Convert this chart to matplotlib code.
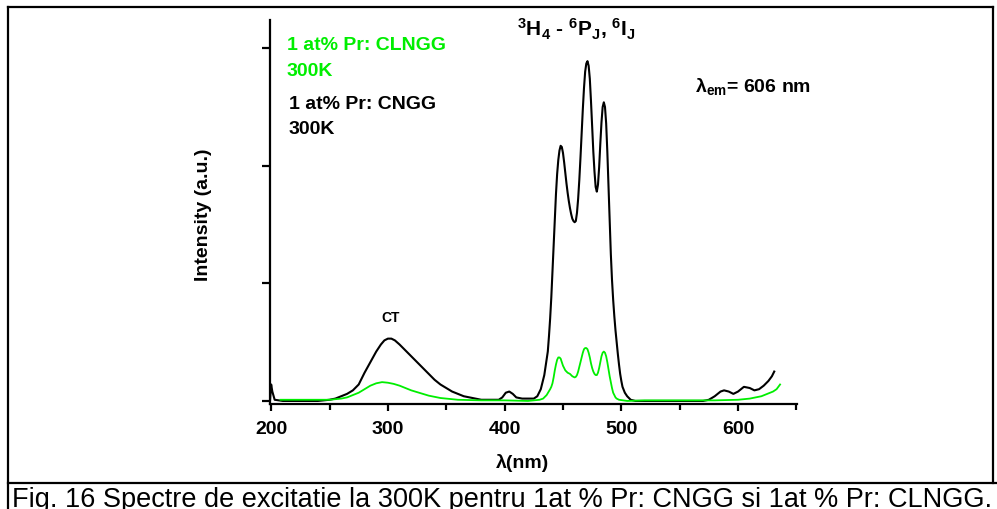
import matplotlib
matplotlib.use("Agg")
import matplotlib.pyplot as plt
from matplotlib.lines import Line2D
from matplotlib.ticker import MultipleLocator, NullFormatter

plt.rcParams["font.family"] = ["Liberation Sans", "DejaVu Sans"]
plt.rcParams["font.weight"] = "bold"
plt.rcParams["mathtext.fontset"] = "custom"
plt.rcParams["mathtext.rm"] = "Liberation Sans:bold"
plt.rcParams["mathtext.it"] = "Liberation Sans:bold"
plt.rcParams["mathtext.bf"] = "Liberation Sans:bold"

# excitation spectrum, 1 at% Pr: CNGG (black)
wl_cngg = [199, 200, 201, 203, 210, 220, 230, 240, 250, 255, 260, 265, 270, 275, 280,
           285, 290, 294, 297, 300, 303, 306, 310, 315, 320, 325, 330, 335, 340, 345,
           350, 355, 360, 365, 370, 375, 380, 385, 390, 395, 398, 401, 404, 407, 410,
           415, 420, 425, 428, 431, 434, 437, 438, 439, 440, 441, 442, 443, 444, 445,
           446, 447, 448, 449, 450, 451, 452, 453, 454, 455, 456, 457, 458, 459, 460,
           461, 462, 463, 464, 465, 466, 467, 468, 469, 470, 471, 472, 473, 474, 475,
           476, 477, 478, 479, 480, 481, 482, 483, 484, 485, 486, 487, 488, 489, 490,
           491, 492, 493, 494, 495, 496, 497, 498, 499, 500, 501, 503, 505, 508, 512,
           520, 530, 540, 550, 560, 570, 575, 580, 585, 588, 592, 596, 600, 605, 610,
           614, 618, 622, 626, 629, 631]
int_cngg = [0.0, 0.14, 0.08, 0.01, 0.0, 0.0, 0.0, 0.0, 0.01, 0.02, 0.04, 0.06, 0.09, 0.14, 0.24,
            0.33, 0.42, 0.48, 0.515, 0.53, 0.53, 0.515, 0.48, 0.43, 0.38, 0.33, 0.28, 0.23, 0.18, 0.14,
            0.11, 0.08, 0.06, 0.04, 0.03, 0.02, 0.01, 0.01, 0.01, 0.01, 0.03, 0.07, 0.08, 0.06, 0.03,
            0.02, 0.02, 0.02, 0.04, 0.10, 0.22, 0.42, 0.55, 0.70, 0.88, 1.09, 1.32, 1.55, 1.76, 1.93,
            2.05, 2.13, 2.17, 2.16, 2.11, 2.03, 1.94, 1.85, 1.77, 1.70, 1.64, 1.59, 1.55, 1.53, 1.52,
            1.53, 1.60, 1.72, 1.88, 2.07, 2.28, 2.48, 2.66, 2.80, 2.87, 2.89, 2.85, 2.74, 2.55, 2.33,
            2.12, 1.95, 1.82, 1.78, 1.84, 1.99, 2.19, 2.37, 2.50, 2.54, 2.50, 2.36, 2.12, 1.83, 1.52,
            1.25, 1.03, 0.86, 0.72, 0.60, 0.50, 0.40, 0.31, 0.23, 0.17, 0.12, 0.07, 0.04, 0.01, 0.0,
            0.0, 0.0, 0.0, 0.0, 0.0, 0.0, 0.01, 0.04, 0.08, 0.09, 0.08, 0.06, 0.08, 0.12, 0.11,
            0.09, 0.10, 0.13, 0.17, 0.21, 0.25]

# excitation spectrum, 1 at% Pr: CLNGG (green)
wl_clngg = [208, 220, 240, 250, 260, 265, 270, 275, 280, 285, 290, 295, 300, 305, 310,
            315, 320, 325, 330, 335, 340, 345, 350, 360, 380, 400, 420, 430, 433, 436,
            439, 440, 441, 442, 443, 444, 445, 446, 447, 448, 449, 450, 451, 452, 453,
            454, 455, 456, 457, 458, 459, 460, 461, 462, 463, 464, 465, 466, 467, 468,
            469, 470, 471, 472, 473, 474, 475, 476, 477, 478, 479, 480, 481, 482, 483,
            484, 485, 486, 487, 488, 489, 490, 491, 492, 493, 494, 495, 496, 498, 505,
            520, 540, 560, 580, 600, 610, 615, 620, 625, 630, 633, 636]
int_clngg = [0.01, 0.01, 0.01, 0.01, 0.02, 0.03, 0.05, 0.07, 0.10, 0.13, 0.15, 0.16, 0.155, 0.145, 0.13,
             0.11, 0.09, 0.075, 0.06, 0.045, 0.035, 0.025, 0.02, 0.01, 0.005, 0.005, 0.0, 0.01, 0.02, 0.05,
             0.10, 0.12, 0.15, 0.20, 0.26, 0.31, 0.35, 0.37, 0.37, 0.36, 0.33, 0.30, 0.28, 0.26, 0.25,
             0.24, 0.235, 0.23, 0.22, 0.21, 0.205, 0.20, 0.205, 0.22, 0.25, 0.29, 0.33, 0.37, 0.41, 0.44,
             0.45, 0.45, 0.44, 0.41, 0.37, 0.32, 0.28, 0.25, 0.23, 0.22, 0.22, 0.24, 0.28, 0.33, 0.38,
             0.41, 0.42, 0.41, 0.38, 0.33, 0.27, 0.21, 0.16, 0.11, 0.07, 0.05, 0.03, 0.02, 0.01, 0.0,
             0.005, 0.005, 0.005, 0.005, 0.01, 0.02, 0.03, 0.04, 0.06, 0.08, 0.10, 0.14]

x_ticks = [200, 300, 400, 500, 600]
y_ticks = [0, 1, 2, 3]

W, H = 997, 509
fig = plt.figure(figsize=(W / 100, H / 100), dpi=100)


def fx(px):
    return px / W


def fy(py):
    return 1 - py / H


ax = fig.add_axes([fx(270), fy(404), fx(797) - fx(270), fy(20) - fy(404)])
ax.plot(wl_cngg, int_cngg, color="black", lw=1.5)
ax.plot(wl_clngg, int_clngg, color="#00ee00", lw=1.3)

ax.set_xlim(199, 650.5)
ax.set_ylim(-0.026, 3.24)
for s in ["top", "right"]:
    ax.spines[s].set_visible(False)
for s in ["left", "bottom"]:
    ax.spines[s].set_linewidth(1.6)

ax.set_xticks(x_ticks)
ax.xaxis.set_minor_locator(MultipleLocator(50))
ax.set_yticks(y_ticks)
ax.yaxis.set_major_formatter(NullFormatter())
ax.tick_params(axis="x", which="major", direction="out", length=5, width=1.6, pad=7, labelsize=14)
ax.tick_params(axis="x", which="minor", direction="out", length=4, width=1.6)
ax.tick_params(axis="y", which="major", direction="out", length=6, width=1.6)
for lab in ax.get_xticklabels():
    lab.set_fontweight("bold")

# labels and annotations
fig.text(fx(523), fy(463), "λ(nm)", ha="center", va="center", fontsize=14, fontweight="bold")
fig.text(fx(203), fy(215), "Intensity (a.u.)", rotation=90, ha="center", va="center",
         fontsize=14, fontweight="bold")
fig.text(fx(287), fy(50), "1 at% Pr: CLNGG", color="#00ee00", fontsize=14, fontweight="bold", va="baseline")
fig.text(fx(287), fy(76), "300K", color="#00ee00", fontsize=14, fontweight="bold", va="baseline")
fig.text(fx(289), fy(109), "1 at% Pr: CNGG", color="black", fontsize=14, fontweight="bold", va="baseline")
fig.text(fx(289), fy(134), "300K", color="black", fontsize=14, fontweight="bold", va="baseline")
fig.text(fx(517), fy(37), r"$^{3}$H$_{4}$ - $^{6}$P$_{J}$, $^{6}$I$_{J}$", fontsize=15,
         fontweight="bold", va="baseline")
fig.text(fx(695), fy(92), r"λ$_{em}$= 606 nm", fontsize=14, fontweight="bold", va="baseline")
fig.text(fx(391), fy(318), "CT", fontsize=10, fontweight="bold", ha="center", va="center")

# frame around the figure and caption
lk = dict(color="black", lw=1.6, transform=fig.transFigure)
fig.add_artist(Line2D([fx(8), fx(993)], [fy(7), fy(7)], **lk))
fig.add_artist(Line2D([fx(8), fx(8)], [fy(7), fy(512)], **lk))
fig.add_artist(Line2D([fx(993), fx(993)], [fy(7), fy(483)], **lk))
fig.add_artist(Line2D([fx(8), fx(1000)], [fy(483), fy(483)], **lk))
fig.text(fx(12), fy(487), "Fig. 16 Spectre de excitatie la 300K pentru 1at % Pr: CNGG si 1at % Pr: CLNGG.",
         fontsize=19.5, fontweight="normal", va="top", ha="left")

fig.savefig("out.png", dpi=100)
